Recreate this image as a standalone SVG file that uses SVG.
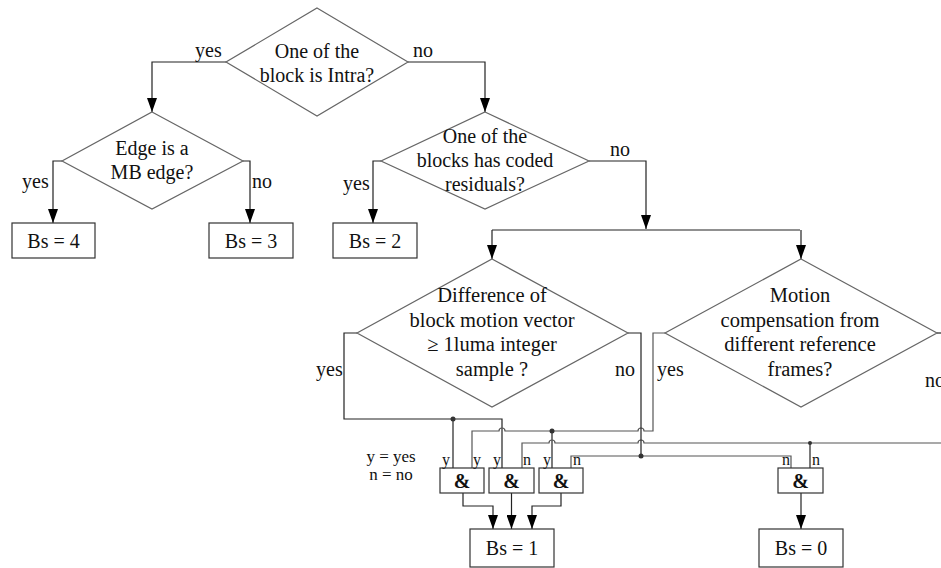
<svg xmlns="http://www.w3.org/2000/svg" width="941" height="568" viewBox="0 0 941 568">
<defs>
<marker id="arr" viewBox="0 0 14 10" refX="14" refY="5" markerWidth="14" markerHeight="10" markerUnits="userSpaceOnUse" orient="auto">
<path d="M0,0 L14,5 L0,10 z" fill="#000"/>
</marker>
<style>
.dia{fill:#fff;stroke:#666;stroke-width:1.2}
.box{fill:#fff;stroke:#333;stroke-width:1.2}
.t{font-family:"Liberation Serif","Times New Roman",serif;font-size:20px;fill:#111;text-anchor:middle}
.t2{font-family:"Liberation Serif","Times New Roman",serif;font-size:20.5px;fill:#111;text-anchor:middle}
.lbl{font-family:"Liberation Serif","Times New Roman",serif;font-size:20px;fill:#111}
.sm{font-family:"Liberation Serif","Times New Roman",serif;font-size:16px;fill:#111}
.leg{font-family:"Liberation Serif","Times New Roman",serif;font-size:17px;fill:#111;text-anchor:middle}
.amp{font-family:"Liberation Serif","Times New Roman",serif;font-size:20px;font-weight:bold;fill:#111;text-anchor:middle}
.c{fill:none;stroke:#222;stroke-width:1.2}
.w{fill:none;stroke:#555;stroke-width:1.2}
.dot{fill:#333}
</style>
</defs>
<rect width="941" height="568" fill="#fff"/>

<g id="connectors">
<path class="c" d="M226,62 H152 V112" marker-end="url(#arr)"/>
<path class="c" d="M408,62 H485 V112" marker-end="url(#arr)"/>
<path class="c" d="M62,161 H53 V223" marker-end="url(#arr)"/>
<path class="c" d="M243,161 H250 V223" marker-end="url(#arr)"/>
<path class="c" d="M381,161 H373 V223" marker-end="url(#arr)"/>
<path class="c" d="M589,161 H646 V229" marker-end="url(#arr)"/>
<path class="c" d="M492,230 H800"/>
<path class="c" d="M492,230 V259" marker-end="url(#arr)"/>
<path class="c" d="M801,230 V259" marker-end="url(#arr)"/>
<path class="c" d="M357,333 H344 V419 H502 V468"/>
<path class="c" d="M453,419 V468"/>
<path class="w" d="M472,468 V431 H499 a3,3 0 0 1 6,0 H638 a3,3 0 0 1 6,0 H653 V333 H665"/>
<path class="c" d="M552,431 V468"/>
<path class="w" d="M522,468 V443 H549 a3,3 0 0 1 6,0 H638 a3,3 0 0 1 6,0 H941"/>
<path class="c" d="M937,333 H941"/>
<path class="c" d="M810,443 V468"/>
<path class="c" d="M628,333 H641 V456"/>
<path class="w" d="M571,468 V456 H791 V468"/>
<circle class="dot" cx="453" cy="419" r="2.5"/>
<circle class="dot" cx="552" cy="431" r="2.5"/>
<circle class="dot" cx="641" cy="456" r="2.5"/>
<circle class="dot" cx="810" cy="443" r="2"/>
<path class="c" d="M463,493 V506 H493 V529" marker-end="url(#arr)"/>
<path class="c" d="M511.5,493 V529" marker-end="url(#arr)"/>
<path class="c" d="M561,493 V506 H532 V529" marker-end="url(#arr)"/>
<path class="c" d="M801,493 V529" marker-end="url(#arr)"/>
<text class="lbl" x="195" y="57">yes</text>
<text class="lbl" x="413" y="57">no</text>
<text class="lbl" x="22" y="188">yes</text>
<text class="lbl" x="252" y="188">no</text>
<text class="lbl" x="343" y="190">yes</text>
<text class="lbl" x="610" y="156">no</text>
<text class="lbl" x="316" y="376">yes</text>
<text class="lbl" x="615" y="376">no</text>
<text class="lbl" x="657" y="376">yes</text>
<text class="lbl" x="925" y="387">no</text>
</g>

<g id="d-intra">
<polygon class="dia" points="317,8 408,62 317,116 226,62"/>
<text class="t" x="317" y="58">One of the</text>
<text class="t" x="317" y="82">block is Intra?</text>
</g>

<g id="d-edge">
<polygon class="dia" points="152,112 243,161 152,209 62,161"/>
<text class="t" x="152" y="155">Edge is a</text>
<text class="t" x="152" y="179">MB edge?</text>
</g>

<g id="d-resid">
<polygon class="dia" points="485,112 589,161 485,209 381,161"/>
<text class="t" x="485" y="143">One of the</text>
<text class="t" x="485" y="167">blocks has coded</text>
<text class="t" x="485" y="191">residuals?</text>
</g>

<g id="d-mv">
<polygon class="dia" points="492,259 628,333 492,407 357,333"/>
<text class="t2" x="492" y="302">Difference of</text>
<text class="t2" x="492" y="327">block motion vector</text>
<text class="t2" x="492" y="351">≥ 1luma integer</text>
<text class="t2" x="492" y="376">sample ?</text>
</g>

<g id="d-ref">
<polygon class="dia" points="801,259 937,333 801,407 665,333"/>
<text class="t2" x="800" y="302">Motion</text>
<text class="t2" x="800" y="327">compensation from</text>
<text class="t2" x="800" y="351">different reference</text>
<text class="t2" x="800" y="376">frames?</text>
</g>

<g id="bs4"><rect class="box" x="12" y="223" width="83" height="35"/><text class="t" x="53.5" y="248">Bs = 4</text></g>
<g id="bs3"><rect class="box" x="209" y="223" width="84" height="35"/><text class="t" x="251" y="248">Bs = 3</text></g>
<g id="bs2"><rect class="box" x="333" y="223" width="84" height="35"/><text class="t" x="375" y="248">Bs = 2</text></g>

<g id="legend">
<text class="leg" x="391" y="462">y = yes</text>
<text class="leg" x="391" y="480">n = no</text>
</g>

<g id="and1">
<rect class="box" x="440" y="468" width="44" height="25"/>
<text class="amp" x="462" y="488">&amp;</text>
<text class="sm" x="442" y="465">y</text>
<text class="sm" x="473" y="465">y</text>
</g>
<g id="and2">
<rect class="box" x="489" y="468" width="45" height="25"/>
<text class="amp" x="511.5" y="488">&amp;</text>
<text class="sm" x="493" y="465">y</text>
<text class="sm" x="523" y="465">n</text>
</g>
<g id="and3">
<rect class="box" x="539" y="468" width="44" height="25"/>
<text class="amp" x="561" y="488">&amp;</text>
<text class="sm" x="543" y="465">y</text>
<text class="sm" x="573" y="465">n</text>
</g>
<g id="and4">
<rect class="box" x="778" y="468" width="45" height="25"/>
<text class="amp" x="800.5" y="488">&amp;</text>
<text class="sm" x="782" y="465">n</text>
<text class="sm" x="812" y="465">n</text>
</g>

<g id="bs1"><rect class="box" x="470" y="529" width="84" height="38"/><text class="t" x="512" y="555">Bs = 1</text></g>
<g id="bs0"><rect class="box" x="759" y="529" width="84" height="38"/><text class="t" x="801" y="555">Bs = 0</text></g>
</svg>
